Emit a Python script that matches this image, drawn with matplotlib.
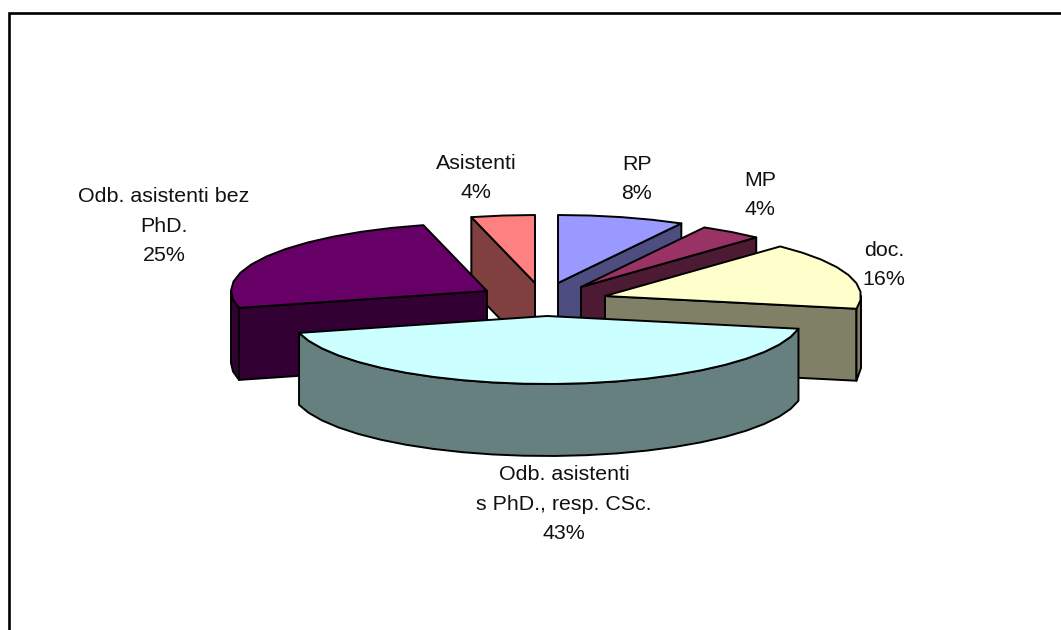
import numpy as np
import matplotlib
matplotlib.use("Agg")
import matplotlib.pyplot as plt
from matplotlib.patches import Polygon

plt.rcParams["font.family"] = ["Liberation Sans", "DejaVu Sans"]

# shares in percent, clockwise from 12 o'clock
names = ["RP", "MP", "doc.", "Odb. asistenti\ns PhD., resp. CSc.", "Odb. asistenti bez\nPhD.", "Asistenti"]
shares = [8, 4, 16, 43, 25, 4]

# how far each slice is pulled out of the pie
pull_x = [11, 34, 58, 0, -60, -12]
pull_y = [-7, -3, 6, 26, 1, -7]

top_colors = ["#9999FF", "#993366", "#FFFFCC", "#CCFFFF", "#660066", "#FF8080"]
side_colors = ["#4D4D80", "#4D1A33", "#808066", "#668080", "#330033", "#804040"]

label_x = [637, 760, 884, 564, 164, 476]
label_y = [179, 195, 265, 504, 226, 178]

CX, CY = 547, 290
RX, RY = 256, 68
DEPTH = 72
LW = 1.4


def rim(a0, a1, x0, y0):
    n = max(2, int((a1 - a0) / 7) + 1)
    a = np.radians(np.linspace(a0, a1, n))
    return np.column_stack([x0 + RX * np.sin(a), y0 - RY * np.cos(a)])


def draw_slice(ax, a0, a1, dx, dy, top, side):
    x0, y0 = CX + dx, CY + dy
    drop = np.array([0, DEPTH])
    apex = np.array([x0, y0])
    # walls on the cut edges that face the viewer
    for ang, normal in ((a0, a0 - 90), (a1, a1 + 90)):
        if np.cos(np.radians(normal)) < -1e-6:
            p = rim(ang, ang, x0, y0)[0]
            ax.add_patch(Polygon([apex, p, p + drop, apex + drop], fc=side, ec="k", lw=LW, joinstyle="round"))
    # outer wall, only the front half of the ellipse
    lo, hi = max(a0, 90), min(a1, 270)
    if hi > lo:
        r = rim(lo, hi, x0, y0)
        ax.add_patch(Polygon(np.vstack([r, (r + drop)[::-1]]), fc=side, ec="k", lw=LW, joinstyle="round"))
    pts = np.vstack([apex, rim(a0, a1, x0, y0)])
    ax.add_patch(Polygon(pts, fc=top, ec="k", lw=LW, joinstyle="round"))


fig = plt.figure(figsize=(10.61, 6.30), dpi=100)
ax = fig.add_axes([0, 0, 1, 1])
ax.set_xlim(0, 1061)
ax.set_ylim(630, 0)
ax.axis("off")

edges = np.cumsum([0] + shares) / sum(shares) * 360
for i in [5, 0, 1, 2, 4, 3]:
    draw_slice(ax, edges[i], edges[i + 1], pull_x[i], pull_y[i], top_colors[i], side_colors[i])

for i, name in enumerate(names):
    ax.text(label_x[i], label_y[i], f"{name}\n{shares[i]}%", ha="center", va="center",
            fontsize=15.4, linespacing=1.68, color="#111111")

# chart frame, only left and top lie inside the crop
ax.plot([8.5, 8.5, 1061], [630, 12.5, 12.5], color="k", lw=1.9, solid_joinstyle="miter")

fig.savefig("out.png", dpi=100)
